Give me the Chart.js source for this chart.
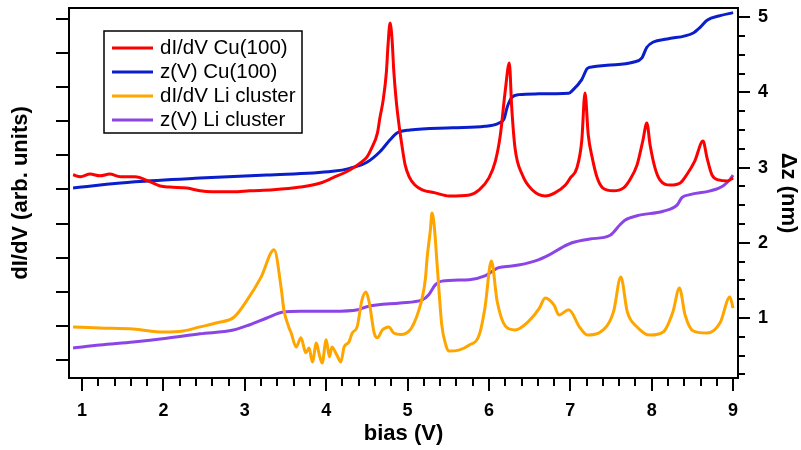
<!DOCTYPE html>
<html>
<head>
<meta charset="utf-8">
<script src="https://cdn.jsdelivr.net/npm/chart.js@4.4.1/dist/chart.umd.min.js"></script>
<style>
    html, body { margin: 0; padding: 0; background: #fff; }
    #wrap { width: 801px; height: 450px; }
</style>
</head>
<body>
<div id="wrap"><canvas id="chart" width="801" height="450"></canvas></div>
<script>
// tick values
const biasTicks = [1, 2, 3, 4, 5, 6, 7, 8, 9];
const zTicks = [1, 2, 3, 4, 5];
const didvTicks = [1, 2, 3, 4, 5, 6, 7, 8, 9, 10, 11];

const seriesNames = ["dI/dV Cu(100)", "z(V) Cu(100)", "dI/dV Li cluster", "z(V) Li cluster"];
const seriesColors = ["#ff0000", "#0a1ecc", "#ffa500", "#8b45e6"];

// dI/dV Cu(100), left axis
const cuDidvBias = [0.89, 0.98, 1.10, 1.22, 1.34, 1.47, 1.65, 1.84, 1.96, 2.08, 2.29, 2.45, 2.59, 2.86, 3.06,
    3.35, 3.68, 3.93, 4.08, 4.29, 4.42, 4.50, 4.56, 4.63, 4.66, 4.70, 4.74, 4.76, 4.785, 4.81, 4.83, 4.86,
    4.90, 4.93, 4.97, 5.02, 5.09, 5.18, 5.34, 5.51, 5.76, 5.88, 6.00, 6.08, 6.14, 6.20, 6.25, 6.28, 6.32,
    6.41, 6.53, 6.69, 6.81, 6.94, 7.00, 7.08, 7.14, 7.18, 7.22, 7.27, 7.33, 7.40, 7.53, 7.65, 7.73, 7.82,
    7.89, 7.94, 7.98, 8.04, 8.10, 8.23, 8.35, 8.43, 8.53, 8.63, 8.68, 8.74, 8.82, 8.93, 9.00];
const cuDidv = [6.43, 6.37, 6.45, 6.40, 6.45, 6.37, 6.37, 6.22, 6.10, 6.07, 6.04, 5.96, 5.93, 5.93, 5.96,
    5.99, 6.07, 6.19, 6.34, 6.57, 6.78, 6.95, 7.22, 7.66, 8.10, 8.62, 9.45, 10.24, 10.88, 10.38, 9.50, 8.62,
    7.80, 7.30, 6.72, 6.37, 6.13, 5.99, 5.90, 5.81, 5.84, 5.99, 6.34, 6.84, 7.60, 8.89, 9.71, 8.39, 7.22,
    6.43, 5.99, 5.81, 5.90, 6.13, 6.34, 6.63, 7.42, 8.83, 7.60, 6.92, 6.34, 6.04, 5.96, 6.04, 6.28, 6.72,
    7.42, 7.95, 7.30, 6.63, 6.28, 6.13, 6.19, 6.43, 6.84, 7.42, 6.92, 6.43, 6.28, 6.25, 6.34];

// z(V) Cu(100), right axis (nm)
const cuZBias = [0.89, 1.65, 2.45, 3.27, 4.08, 4.29, 4.50, 4.66, 4.785, 4.87, 5.03, 5.55, 5.95, 6.12, 6.19,
    6.22, 6.28, 6.37, 6.57, 6.98, 7.03, 7.14, 7.21, 7.28, 7.45, 7.77, 7.88, 7.94, 8.02, 8.19, 8.51, 8.60,
    8.68, 8.84, 9.00];
const cuZ = [2.73, 2.81, 2.86, 2.90, 2.95, 2.99, 3.07, 3.21, 3.37, 3.46, 3.50, 3.53, 3.55, 3.59, 3.66,
    3.79, 3.93, 3.97, 3.98, 3.99, 4.03, 4.17, 4.32, 4.34, 4.36, 4.40, 4.46, 4.60, 4.67, 4.71, 4.79, 4.87,
    4.96, 5.02, 5.06];

// dI/dV Li cluster, left axis
const liDidvBias = [0.89, 1.22, 1.63, 2.00, 2.24, 2.45, 2.66, 2.87, 3.03, 3.20, 3.36, 3.45, 3.48, 3.54,
    3.57, 3.63, 3.69, 3.75, 3.79, 3.83, 3.88, 3.91, 3.95, 4.00, 4.04, 4.07, 4.13, 4.18, 4.22, 4.28, 4.32,
    4.38, 4.44, 4.49, 4.53, 4.59, 4.63, 4.69, 4.77, 4.83, 4.92,
    5.03, 5.09, 5.14, 5.18, 5.22, 5.24, 5.28, 5.30, 5.33, 5.36, 5.39, 5.42, 5.47, 5.51, 5.63, 5.76,
    5.88, 5.95, 6.03, 6.10, 6.20, 6.32, 6.49, 6.62, 6.69, 6.80, 6.86, 6.98, 7.12, 7.21, 7.37, 7.53, 7.62,
    7.70, 7.82, 7.98, 8.14, 8.26, 8.34, 8.41, 8.51, 8.68, 8.84, 8.96, 9.00];
const liDidv = [1.97, 1.94, 1.91, 1.82, 1.85, 1.97, 2.09, 2.26, 2.76, 3.43, 4.23, 3.05, 2.47, 1.97,
    1.79, 1.38, 1.65, 1.21, 1.35, 0.94, 1.50, 1.21, 0.91, 1.59, 1.09, 1.38, 1.15, 0.94, 1.38, 1.53, 1.79,
    1.97, 2.76, 2.99, 2.67, 1.79, 1.65, 1.88, 1.97, 1.79, 1.75,
    1.88, 2.14, 2.47, 2.82, 3.40, 3.99, 4.81, 5.31, 4.87, 3.90, 2.91, 2.03, 1.44, 1.26, 1.29, 1.44,
    1.73, 2.52, 3.90, 2.73, 2.00, 1.88, 2.14, 2.52, 2.82, 2.61, 2.32, 2.47, 1.94, 1.73, 1.82, 2.41, 3.43,
    2.41, 1.97, 1.73, 1.82, 2.41, 3.11, 2.32, 1.85, 1.79, 2.09, 2.85, 2.52];

// z(V) Li cluster, right axis (nm)
const liZBias = [0.89, 1.22, 1.63, 2.04, 2.45, 2.86, 3.06, 3.27, 3.47, 3.68, 4.08, 4.39, 4.50, 4.91, 5.18,
    5.26, 5.34, 5.42, 5.76, 5.95, 6.12, 6.28, 6.57, 6.74, 6.90, 7.02, 7.24, 7.49, 7.61, 7.67, 7.82, 8.14,
    8.31, 8.37, 8.47, 8.72, 8.88, 8.96, 9.00];
const liZ = [0.60, 0.64, 0.68, 0.73, 0.79, 0.84, 0.91, 1.00, 1.08, 1.09, 1.09, 1.11, 1.15, 1.20, 1.24,
    1.31, 1.44, 1.49, 1.51, 1.56, 1.67, 1.69, 1.76, 1.84, 1.94, 2.00, 2.05, 2.10, 2.24, 2.30, 2.36, 2.42,
    2.50, 2.60, 2.64, 2.69, 2.76, 2.84, 2.90];

const FONT = "'Liberation Sans', Arial, sans-serif";

function toPoints(xs, ys) {
    return xs.map(function (x, i) { return { x: x, y: ys[i] }; });
}

function makeSet(idx, xs, ys, axis) {
    return {
        label: seriesNames[idx],
        data: toPoints(xs, ys),
        yAxisID: axis,
        borderColor: seriesColors[idx],
        backgroundColor: seriesColors[idx],
        borderWidth: 3,
        pointRadius: 0,
        fill: false,
        cubicInterpolationMode: 'monotone'
    };
}

function setTicks(values) {
    return function (scale) {
        scale.ticks = values.map(function (v) { return { value: v }; });
    };
}

function fixSize(prop, size) {
    return function (scale) {
        scale[prop] = size;
        scale.paddingTop = 0;
        scale.paddingBottom = 0;
        scale.paddingLeft = 0;
        scale.paddingRight = 0;
    };
}

// box, minor ticks and the legend box
const framePlugin = {
    id: 'frame',
    afterDraw: function (chart) {
        const ctx = chart.ctx;
        const area = chart.chartArea;
        const xs = chart.scales.x;
        const yr = chart.scales.yR;

        ctx.save();
        ctx.strokeStyle = '#000';
        ctx.lineWidth = 2;
        ctx.strokeRect(area.left, area.top, area.right - area.left, area.bottom - area.top);

        ctx.beginPath();
        for (let k = 0; k < 60; k++) {
            let v = 1 + k * 0.2;
            if (v > xs.max) break;
            if (k % 5 === 0) continue;
            let px = Math.round(xs.getPixelForValue(v));
            ctx.moveTo(px, area.bottom);
            ctx.lineTo(px, area.bottom + 8);
        }
        for (let k = 1; k < 30; k++) {
            let v = k * 0.25;
            if (v > yr.max) break;
            if (k % 4 === 0) continue;
            let py = Math.round(yr.getPixelForValue(v));
            ctx.moveTo(area.right, py);
            ctx.lineTo(area.right + 7, py);
        }
        ctx.stroke();

        // legend
        const box = { left: 104, top: 31, right: 302, bottom: 133 };
        ctx.fillStyle = '#fff';
        ctx.fillRect(box.left, box.top, box.right - box.left, box.bottom - box.top);
        ctx.lineWidth = 1.5;
        ctx.strokeRect(box.left, box.top, box.right - box.left, box.bottom - box.top);

        ctx.font = "20.5px " + FONT;
        ctx.textBaseline = 'middle';
        ctx.textAlign = 'left';
        chart.data.datasets.forEach(function (ds, i) {
            let y = 48 + i * 24;
            ctx.strokeStyle = ds.borderColor;
            ctx.lineWidth = 3;
            ctx.beginPath();
            ctx.moveTo(112, y);
            ctx.lineTo(153, y);
            ctx.stroke();
            ctx.fillStyle = '#000';
            ctx.fillText(ds.label, 160, y);
        });
        ctx.restore();
    }
};

const tickFont = { family: FONT, size: 18, weight: 'bold' };
const titleFont = { family: FONT, size: 22, weight: 'bold' };

new Chart(document.getElementById('chart'), {
    type: 'line',
    data: {
        datasets: [
            makeSet(0, cuDidvBias, cuDidv, 'yL'),
            makeSet(1, cuZBias, cuZ, 'yR'),
            makeSet(2, liDidvBias, liDidv, 'yL'),
            makeSet(3, liZBias, liZ, 'yR')
        ]
    },
    options: {
        responsive: false,
        animation: false,
        devicePixelRatio: 1,
        layout: { padding: { top: 8, left: 0, right: 0, bottom: 0 } },
        plugins: {
            legend: { display: false },
            tooltip: { enabled: false }
        },
        scales: {
            x: {
                type: 'linear',
                position: 'bottom',
                min: 0.84,
                max: 9.06,
                afterBuildTicks: setTicks(biasTicks),
                afterFit: fixSize('height', 72),
                border: { display: false },
                grid: { drawOnChartArea: false, drawTicks: true, tickLength: 13, lineWidth: 2, color: '#000' },
                ticks: { font: tickFont, color: '#000', padding: 9, maxRotation: 0, autoSkip: false },
                title: { display: true, text: 'bias (V)', font: titleFont, color: '#000', padding: { top: 0, bottom: 3 } }
            },
            yL: {
                type: 'linear',
                position: 'left',
                min: 0.472,
                max: 11.32,
                afterBuildTicks: setTicks(didvTicks),
                afterFit: fixSize('width', 69),
                border: { display: false },
                grid: { drawOnChartArea: false, drawTicks: true, tickLength: 13, lineWidth: 2, color: '#000' },
                ticks: { display: false },
                title: { display: true, text: 'dI/dV (arb. units)', font: titleFont, color: '#000', padding: { top: 8, bottom: 0 } }
            },
            yR: {
                type: 'linear',
                position: 'right',
                min: 0.202,
                max: 5.122,
                afterBuildTicks: setTicks(zTicks),
                afterFit: fixSize('width', 63),
                border: { display: false },
                grid: { drawOnChartArea: false, drawTicks: true, tickLength: 12, lineWidth: 2, color: '#000' },
                ticks: { font: tickFont, color: '#000', padding: 8 },
                title: { display: true, text: 'Δz (nm)', font: titleFont, color: '#000', padding: { top: 0, bottom: 0 } }
            }
        }
    },
    plugins: [framePlugin]
});
</script>
</body>
</html>
